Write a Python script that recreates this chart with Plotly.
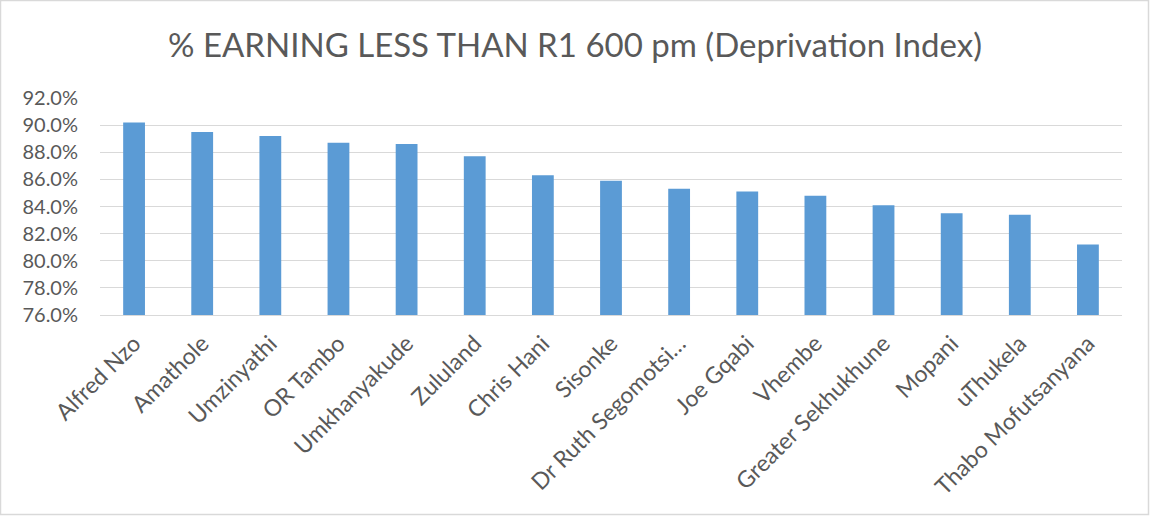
import plotly.graph_objects as go

categories = ["Alfred Nzo", "Amathole", "Umzinyathi", "OR Tambo", "Umkhanyakude",
              "Zululand", "Chris Hani", "Sisonke", "Dr Ruth Segomotsi…", "Joe Gqabi",
              "Vhembe", "Greater Sekhukhune", "Mopani", "uThukela", "Thabo Mofutsanyana"]
values = [90.2, 89.5, 89.2, 88.7, 88.6, 87.7, 86.3, 85.9, 85.3, 85.1, 84.8, 84.1, 83.5, 83.4, 81.2]
tick_vals = [76, 78, 80, 82, 84, 86, 88, 90, 92]
tick_text = [f"{v:.1f}%" for v in tick_vals]

W, H = 1150, 516
L, R, T, B = 100, 28, 98, 201
pw, ph = W - L - R, H - T - B
FONT = "Lato"

fig = go.Figure(go.Bar(x=categories, y=values, marker=dict(color="#5b9bd5", line=dict(width=0))))

fig.update_layout(
    width=W, height=H,
    margin=dict(l=L, r=R, t=T, b=B),
    paper_bgcolor="white", plot_bgcolor="white",
    bargap=0.68,
    showlegend=False,
    font=dict(family=FONT, color="#595959"),
    title=dict(text="% EARNING LESS THAN R1 600 pm (Deprivation Index)",
               x=0.5, xref="container", xanchor="center", y=1 - 45 / H, yanchor="middle",
               font=dict(size=33, color="#595959", family=FONT)),
)
fig.update_yaxes(range=[76, 92], tickvals=tick_vals, ticktext=tick_text,
                 showgrid=True, gridcolor="#d9d9d9", gridwidth=1,
                 zeroline=False, showline=False, ticks="",
                 tickfont=dict(size=20, color="#595959", family=FONT), ticklabelstandoff=21)
fig.update_xaxes(tickangle=-45, showgrid=False, showline=True, linecolor="#d9d9d9",
                 linewidth=1, ticks="", tickfont=dict(size=23, color="#595959", family=FONT),
                 ticklabelstandoff=5)

fig.add_shape(type="rect", xref="paper", yref="paper",
              x0=(0.5 - L) / pw, x1=(W - 1.5 - L) / pw,
              y0=((H - B) - (H - 1.5)) / ph, y1=((H - B) - 0.5) / ph,
              line=dict(color="#d9d9d9", width=1.5), fillcolor="rgba(0,0,0,0)", layer="below")

fig.write_html("out.html", config={"displayModeBar": False},
               post_script="document.body.style.margin='0';document.body.style.overflow='hidden';")
